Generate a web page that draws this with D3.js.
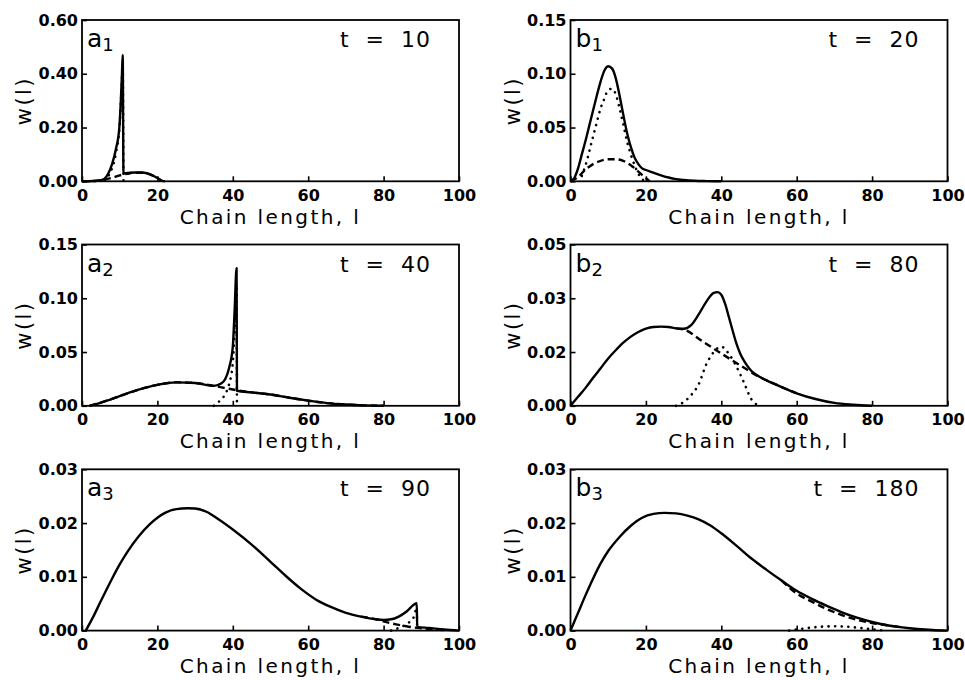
<!DOCTYPE html>
<html lang="en">
<head>
<meta charset="UTF-8">
<title>Chain length distributions</title>
<script src="https://d3js.org/d3.v7.min.js"></script>
<style>
    body { margin: 0; background: #fff; }
    svg { display: block; }
    .tick text { font-family: 'DejaVu Sans', sans-serif; font-weight: bold; font-size: 16px; fill: #000; }
    .tick line { stroke: #000; stroke-width: 1.6px; }
    .title { font-family: 'DejaVu Sans', sans-serif; font-size: 20px; letter-spacing: 2.4px; fill: #000; }
    .tag { font-family: 'DejaVu Sans', sans-serif; fill: #000; }
</style>
</head>
<body>
<svg id="chart" width="965" height="680"></svg>
<script>
// x ticks shared by every panel
const xTicks = [0, 20, 40, 60, 80, 100];
const xTickLabels = ["0", "20", "40", "60", "80", "100"];

// y ticks per panel (b2 is printed with rounded labels)
const yTicksA1 = [0, 0.2, 0.4, 0.6];
const yLabelsA1 = ["0.00", "0.20", "0.40", "0.60"];
const yTicks015 = [0, 0.05, 0.10, 0.15];
const yLabels015 = ["0.00", "0.05", "0.10", "0.15"];
const yTicksB2 = [0, 0.015, 0.030, 0.045];
const yLabelsB2 = ["0.00", "0.02", "0.03", "0.05"];
const yTicks003 = [0, 0.01, 0.02, 0.03];
const yLabels003 = ["0.00", "0.01", "0.02", "0.03"];

// [chain length, w(l)]
const a1Solid = [[0,0],[3,0.001],[5,0.004],[6,0.01],[7,0.03],[8,0.065],[9,0.12],[9.9,0.2],[10.3,0.3],[10.6,0.4],[10.8,0.47],[11,0.03],[12,0.031],[14,0.033],[16,0.033],[18,0.027],[20,0.012],[21,0.003],[22,0]];
const a1Dashed = [[0,0],[4,0.002],[6,0.006],[8,0.013],[10,0.022],[12,0.028],[14,0.032],[16,0.032],[18,0.026],[20,0.012],[21,0.003],[22,0]];
const a1Dotted = [[6,0.004],[7,0.02],[8,0.05],[9,0.105],[10,0.21],[10.5,0.35],[10.8,0.44],[11,0]];

const b1Solid = [[0,0],[1,0.003],[2,0.012],[3,0.025],[4,0.038],[5,0.052],[6,0.066],[7,0.08],[8,0.093],[9,0.103],[10,0.107],[11,0.105],[12,0.096],[13,0.08],[14,0.062],[15,0.045],[16,0.032],[17,0.022],[18,0.016],[19,0.012],[20,0.0105],[22,0.008],[24,0.0055],[26,0.0035],[28,0.002],[30,0.0012],[33,0.0005],[36,0.0002],[40,0]];
const b1Dashed = [[0,0],[2,0.004],[4,0.011],[6,0.016],[8,0.019],[10,0.0205],[12,0.0205],[14,0.019],[16,0.015],[18,0.009],[20,0.003],[21,0]];
const b1Dotted = [[3,0.005],[4,0.015],[5,0.028],[6,0.042],[7,0.055],[8,0.068],[9,0.077],[10,0.085],[11,0.086],[12,0.081],[13,0.068],[14,0.053],[15,0.037],[16,0.025],[17,0.015],[18,0.007],[19,0.002],[20,0]];

const a2Solid = [[2,0],[5,0.003],[10,0.009],[15,0.015],[20,0.0195],[25,0.0218],[30,0.0212],[35,0.0185],[37,0.021],[38,0.025],[39,0.035],[40,0.055],[40.5,0.09],[41,0.128],[41.1,0.014],[45,0.0125],[50,0.0105],[55,0.0075],[60,0.0048],[65,0.0025],[70,0.0012],[75,0.0004],[80,0]];
const a2Dashed = [[2,0],[5,0.003],[10,0.009],[15,0.015],[20,0.0195],[25,0.0218],[30,0.0212],[35,0.0185],[38,0.0165],[41,0.0145],[45,0.0125],[50,0.0105],[55,0.0075],[60,0.0048],[65,0.0025],[70,0.0012],[75,0.0004],[80,0]];
const a2Dotted = [[35,0],[36,0.003],[37,0.006],[38,0.011],[39,0.02],[40,0.04],[40.5,0.07],[41,0.113],[41.1,0]];

const b2Solid = [[0,0],[2,0.0025],[4,0.005],[6,0.0078],[8,0.0105],[10,0.0132],[12,0.0155],[14,0.0176],[16,0.0193],[18,0.0206],[20,0.0215],[22,0.022],[24,0.0221],[26,0.022],[28,0.0216],[30,0.0215],[32,0.0225],[34,0.0255],[36,0.029],[38,0.0315],[39,0.0317],[40,0.031],[41,0.0285],[42,0.0248],[43,0.021],[44,0.0174],[45,0.0146],[46,0.0126],[47,0.011],[48,0.0097],[50,0.0082],[52,0.0071],[55,0.0057],[60,0.0035],[65,0.0019],[70,0.0008],[75,0.0003],[80,0]];
const b2Dashed = [[28,0.0216],[30,0.0213],[35,0.018],[40,0.0146],[45,0.0113],[50,0.0081],[52,0.0071],[55,0.0057],[60,0.0035]];
const b2Dotted = [[28,0],[30,0.001],[32,0.003],[34,0.006],[36,0.0115],[38,0.015],[40,0.0165],[42,0.0145],[44,0.011],[46,0.0065],[48,0.0018],[50,0]];

const a3Solid = [[1,0],[3,0.0026],[5,0.0055],[8,0.0097],[10,0.0123],[12,0.0146],[15,0.0175],[18,0.0198],[20,0.021],[22,0.0219],[25,0.0226],[28,0.02275],[30,0.0227],[33,0.0221],[36,0.0208],[40,0.0188],[45,0.016],[50,0.0128],[54,0.0102],[58,0.0078],[62,0.0058],[66,0.0044],[70,0.0033],[74,0.0026],[78,0.0021],[80,0.002],[82,0.0021],[84,0.0026],[86,0.0035],[88,0.0048],[88.8,0.0051],[88.9,0.0007],[92,0.0005],[96,0.0002],[100,0]];
const a3Dashed = [[74,0.0026],[78,0.0021],[80,0.0017],[83,0.0012],[86,0.0008],[89,0.0005],[92,0.0003],[96,0.0001]];
const a3Dotted = [[82,0],[84,0.0005],[86,0.0012],[88,0.0025],[88.8,0.0042],[88.9,0]];

const b3Solid = [[0,0],[2,0.0033],[4,0.0066],[6,0.0097],[8,0.0125],[10,0.0148],[13,0.0174],[16,0.0195],[19,0.021],[22,0.0217],[25,0.0219],[28,0.0218],[31,0.0214],[34,0.0207],[37,0.0196],[40,0.0181],[44,0.0158],[48,0.0134],[52,0.0113],[56,0.0093],[60,0.0074],[64,0.0059],[68,0.0046],[72,0.0034],[76,0.0024],[80,0.0016],[84,0.001],[88,0.0006],[92,0.0003],[96,0.0001],[100,0]];
const b3Dashed = [[56,0.0093],[60,0.0069],[64,0.0054],[68,0.004],[72,0.0029],[76,0.002],[80,0.0014],[84,0.001],[88,0.0006]];
const b3Dotted = [[58,0],[62,0.0004],[66,0.0007],[70,0.0008],[74,0.0007],[78,0.0004],[82,0.0001],[84,0]];

const panels = [
    { tag: "a", sub: "1", t: "10",  col: 0, row: 0, yTicks: yTicksA1, yLabels: yLabelsA1, solid: a1Solid, dashed: a1Dashed, dotted: a1Dotted },
    { tag: "b", sub: "1", t: "20",  col: 1, row: 0, yTicks: yTicks015, yLabels: yLabels015, solid: b1Solid, dashed: b1Dashed, dotted: b1Dotted },
    { tag: "a", sub: "2", t: "40",  col: 0, row: 1, yTicks: yTicks015, yLabels: yLabels015, solid: a2Solid, dashed: a2Dashed, dotted: a2Dotted },
    { tag: "b", sub: "2", t: "80",  col: 1, row: 1, yTicks: yTicksB2, yLabels: yLabelsB2, solid: b2Solid, dashed: b2Dashed, dotted: b2Dotted },
    { tag: "a", sub: "3", t: "90",  col: 0, row: 2, yTicks: yTicks003, yLabels: yLabels003, solid: a3Solid, dashed: a3Dashed, dotted: a3Dotted },
    { tag: "b", sub: "3", t: "180", col: 1, row: 2, yTicks: yTicks003, yLabels: yLabels003, solid: b3Solid, dashed: b3Dashed, dotted: b3Dotted }
];

const colLeft = [82, 570.5];
const rowTop = [20, 244.5, 469.3];
const pw = 377, ph = 161.3;

const svg = d3.select("#chart");
svg.append("rect").attr("width", 965).attr("height", 680).attr("fill", "#fff");

panels.forEach(p => {
    const left = colLeft[p.col], top = rowTop[p.row];
    const g = svg.append("g").attr("transform", `translate(${left},${top})`);

    const x = d3.scaleLinear().domain([0, 100]).range([0, pw]);
    const y = d3.scaleLinear().domain([0, p.yTicks[p.yTicks.length - 1]]).range([ph, 0]);

    const line = d3.line()
        .x(d => x(d[0]))
        .y(d => y(d[1]))
        .curve(d3.curveMonotoneX);

    // dotted, dashed, then solid on top
    g.append("path").datum(p.dotted)
        .attr("d", line).attr("fill", "none").attr("stroke", "#000")
        .attr("stroke-width", 2.6).attr("stroke-linecap", "round")
        .attr("stroke-dasharray", "0.1 6.5");
    g.append("path").datum(p.dashed)
        .attr("d", line).attr("fill", "none").attr("stroke", "#000")
        .attr("stroke-width", 2.4).attr("stroke-dasharray", "7 4");
    g.append("path").datum(p.solid)
        .attr("d", line).attr("fill", "none").attr("stroke", "#000")
        .attr("stroke-width", 2.4).attr("stroke-linejoin", "round");

    // axes with inward ticks
    const xAxis = g.append("g")
        .attr("transform", `translate(0,${ph})`)
        .call(d3.axisBottom(x).tickValues(xTicks)
            .tickFormat((d, i) => xTickLabels[i])
            .tickSizeInner(-5).tickSizeOuter(0).tickPadding(8));
    xAxis.select(".domain").remove();

    const yAxis = g.append("g")
        .call(d3.axisLeft(y).tickValues(p.yTicks)
            .tickFormat((d, i) => p.yLabels[i])
            .tickSizeInner(-5).tickSizeOuter(0).tickPadding(4));
    yAxis.select(".domain").remove();

    g.append("rect")
        .attr("width", pw).attr("height", ph)
        .attr("fill", "none").attr("stroke", "#000").attr("stroke-width", 1.8);

    // axis titles
    g.append("text").attr("class", "title")
        .attr("x", pw / 2).attr("y", ph + 42.5)
        .attr("text-anchor", "middle")
        .text("Chain length, l");

    g.append("text").attr("class", "title")
        .attr("transform", `translate(-51,${ph / 2}) rotate(-90)`)
        .attr("text-anchor", "middle")
        .style("font-size", "21px")
        .text("w(l)");

    // panel tag with subscript
    const tag = g.append("text").attr("class", "tag")
        .attr("x", 5).attr("y", 27)
        .style("font-size", "25px");
    tag.append("tspan").text(p.tag);
    tag.append("tspan").attr("dy", 4).style("font-size", "18px").text(p.sub);

    g.append("text").attr("class", "tag")
        .attr("x", pw - 28).attr("y", 27)
        .attr("text-anchor", "end")
        .style("font-size", "22px")
        .style("letter-spacing", "1px")
        .style("word-spacing", "8px")
        .text(`t = ${p.t}`);
});
</script>
</body>
</html>
